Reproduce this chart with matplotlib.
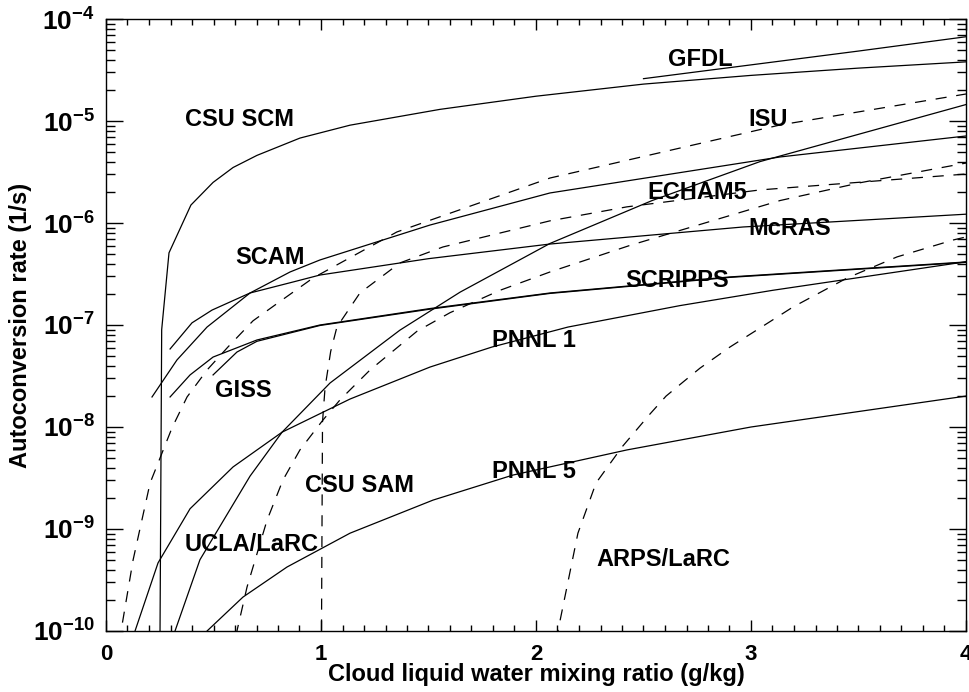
import matplotlib
matplotlib.use('Agg')
import matplotlib.pyplot as plt
from matplotlib.ticker import MultipleLocator, FixedLocator, FixedFormatter, LogLocator, NullFormatter

plt.rcParams['font.family'] = ['Liberation Sans', 'DejaVu Sans']
plt.rcParams['font.weight'] = 'bold'
plt.rcParams['mathtext.fontset'] = 'custom'
plt.rcParams['mathtext.rm'] = 'Liberation Sans:bold'
plt.rcParams['mathtext.bf'] = 'Liberation Sans:bold'
plt.rcParams['mathtext.it'] = 'Liberation Sans:bold'
plt.rcParams['lines.scale_dashes'] = False

## curves: cloud water (g/kg) vs autoconversion rate (1/s)
csu_scm_q = [0.2505, 0.259, 0.293, 0.395, 0.498, 0.591, 0.702, 0.902, 1.135, 1.553, 2.0, 2.5, 3.0, 3.5, 4.0]
csu_scm_r = [5e-11, 9e-8, 5.1e-7, 1.5e-6, 2.5e-6, 3.5e-6, 4.6e-6, 6.8e-6, 9.1e-6, 1.3e-5, 1.75e-5, 2.3e-5, 2.8e-5, 3.3e-5, 3.8e-5]

gfdl_q = [2.5, 3.0, 3.5, 4.0]
gfdl_r = [2.6e-5, 3.55e-5, 4.85e-5, 6.7e-5]

echam5_q = [0.30, 0.321, 0.437, 0.670, 0.819, 1.042, 1.367, 1.647, 2.065, 2.540, 3.042, 4.0]
echam5_r = [7.2e-11, 1.0e-10, 5.0e-10, 3.3e-9, 8.9e-9, 2.7e-8, 8.9e-8, 2.1e-7, 6.3e-7, 1.66e-6, 4.0e-6, 1.45e-5]

pnnl1_q = [0.120, 0.135, 0.242, 0.391, 0.591, 0.819, 1.135, 1.507, 1.795, 2.149, 2.670, 3.102, 4.0]
pnnl1_r = [7.4e-11, 1.0e-10, 4.65e-10, 1.58e-9, 4.06e-9, 8.9e-9, 1.88e-8, 3.87e-8, 6.08e-8, 9.55e-8, 1.55e-7, 2.19e-7, 4.17e-7]

pnnl5_q = [0.45, 0.470, 0.637, 0.842, 1.135, 1.521, 1.893, 2.423, 3.0, 4.0]
pnnl5_r = [7.8e-11, 1.0e-10, 2.15e-10, 4.24e-10, 9.1e-10, 1.92e-9, 3.38e-9, 5.96e-9, 1.0e-8, 2.01e-8]

scam_q = [0.214, 0.330, 0.470, 0.670, 0.856, 0.995, 1.507, 2.065, 3.135, 4.0]
scam_r = [1.97e-8, 4.54e-8, 9.55e-8, 2.06e-7, 3.31e-7, 4.34e-7, 9.55e-7, 1.97e-6, 4.44e-6, 7.13e-6]

mcras_q = [0.298, 0.400, 0.493, 0.670, 0.870, 0.995, 1.5, 2.065, 2.963, 4.0]
mcras_r = [5.82e-8, 1.05e-7, 1.40e-7, 2.06e-7, 2.64e-7, 3.09e-7, 4.47e-7, 6.22e-7, 9.14e-7, 1.22e-6]

scripps_q = [0.298, 0.391, 0.498, 0.702, 0.995, 1.507, 2.065, 2.902, 4.0]
scripps_r = [1.97e-8, 3.24e-8, 4.85e-8, 7.13e-8, 1.0e-7, 1.45e-7, 2.06e-7, 2.96e-7, 4.15e-7]

giss_q = [0.498, 0.609, 0.702, 0.995, 1.507, 2.065, 2.902, 4.0]
giss_r = [3.24e-8, 5.43e-8, 6.92e-8, 9.89e-8, 1.43e-7, 2.04e-7, 2.93e-7, 4.11e-7]

isu_q = [0.060, 0.070, 0.126, 0.205, 0.307, 0.377, 0.470, 0.567, 0.684, 0.809, 0.963, 1.353, 2.065, 3.135, 4.0]
isu_r = [7.6e-11, 1.0e-10, 4.97e-10, 2.82e-9, 9.8e-9, 1.97e-8, 3.62e-8, 6.08e-8, 1.10e-7, 1.70e-7, 2.89e-7, 8.17e-7, 2.76e-6, 9.14e-6, 1.84e-5]

ucla_q = [0.603, 0.609, 0.656, 0.749, 0.823, 0.902, 1.009, 1.088, 1.228, 1.447, 1.600, 1.833, 2.065, 2.437, 3.135, 3.507, 4.0]
ucla_r = [5.6e-11, 1.0e-10, 2.7e-10, 1.22e-9, 3.02e-9, 5.96e-9, 1.17e-8, 1.84e-8, 3.62e-8, 8.7e-8, 1.32e-7, 2.19e-7, 3.31e-7, 6.03e-7, 1.66e-6, 2.48e-6, 3.87e-6]

csu_sam_q = [1.000, 1.007, 1.019, 1.045, 1.074, 1.181, 1.367, 1.567, 2.065, 2.423, 3.042, 4.0]
csu_sam_r = [1e-11, 1.12e-8, 2.45e-8, 5.5e-8, 9.55e-8, 2.06e-7, 4.06e-7, 5.82e-7, 1.05e-6, 1.44e-6, 2.11e-6, 3.02e-6]

arps_q = [2.095, 2.102, 2.195, 2.279, 2.400, 2.530, 2.605, 2.684, 2.763, 2.902, 3.042, 3.195, 3.447, 3.679, 3.940, 4.0]
arps_r = [5.0e-11, 1.0e-10, 9.1e-10, 2.82e-9, 6.37e-9, 1.34e-8, 2.01e-8, 2.76e-8, 3.78e-8, 6.08e-8, 9.35e-8, 1.5e-7, 2.89e-7, 4.65e-7, 6.81e-7, 7.3e-7]

solid_curves = [(csu_scm_q, csu_scm_r), (gfdl_q, gfdl_r), (echam5_q, echam5_r),
                (pnnl1_q, pnnl1_r), (pnnl5_q, pnnl5_r), (scam_q, scam_r),
                (mcras_q, mcras_r), (scripps_q, scripps_r), (giss_q, giss_r)]
dashed_curves = [(isu_q, isu_r), (ucla_q, ucla_r), (csu_sam_q, csu_sam_r), (arps_q, arps_r)]

## curve names and where they were written
names = ['GFDL', 'CSU SCM', 'ISU', 'ECHAM5', 'McRAS', 'SCAM', 'SCRIPPS',
         'PNNL 1', 'GISS', 'CSU SAM', 'PNNL 5', 'UCLA/LaRC', 'ARPS/LaRC']
name_pos = [(2.614, 3.49e-5), (0.367, 9.02e-6), (2.986, 9.02e-6), (2.516, 1.73e-6),
            (2.986, 7.69e-7), (0.600, 4.0e-7), (2.414, 2.38e-7), (1.795, 6.14e-8),
            (0.507, 1.99e-8), (0.926, 2.33e-9), (1.795, 3.19e-9), (0.367, 6.14e-10),
            (2.279, 4.38e-10)]

x_ticks = [0, 1, 2, 3, 4]
x_tick_labels = ['0', '1', '2', '3', '4']
y_ticks = [1e-10, 1e-9, 1e-8, 1e-7, 1e-6, 1e-5, 1e-4]
y_tick_labels = [r'$\mathbf{10^{-10}}$', r'$\mathbf{10^{-9}}$', r'$\mathbf{10^{-8}}$',
                 r'$\mathbf{10^{-7}}$', r'$\mathbf{10^{-6}}$', r'$\mathbf{10^{-5}}$',
                 r'$\mathbf{10^{-4}}$']

fig = plt.figure(figsize=(9.7, 6.92), dpi=100)
ax = fig.add_axes([106/970, 61/692, 860/970, 612/692])

for q, r in solid_curves:
    ax.plot(q, r, color='black', lw=0.9, solid_joinstyle='miter')
for q, r in dashed_curves:
    ax.plot(q, r, color='black', lw=0.9, dashes=(8, 7))

for name, (px, py) in zip(names, name_pos):
    ax.text(px, py, name, fontsize=17, fontweight='bold', ha='left', va='baseline')

ax.set_yscale('log')
ax.set_xlim(0, 4)
ax.set_ylim(1e-10, 1e-4)

ax.xaxis.set_major_locator(FixedLocator(x_ticks))
ax.xaxis.set_major_formatter(FixedFormatter(x_tick_labels))
ax.xaxis.set_minor_locator(MultipleLocator(0.1))
ax.yaxis.set_major_locator(FixedLocator(y_ticks))
ax.yaxis.set_major_formatter(FixedFormatter(y_tick_labels))
ax.yaxis.set_minor_locator(LogLocator(base=10, subs=range(2, 10), numticks=20))
ax.yaxis.set_minor_formatter(NullFormatter())

ax.tick_params(which='both', direction='in', top=True, right=True, width=1)
ax.tick_params(axis='x', which='major', length=8, pad=9, labelsize=16)
ax.tick_params(axis='x', which='minor', length=4.3)
ax.tick_params(axis='y', which='major', length=12.5, pad=8, labelsize=19)
ax.tick_params(axis='y', which='minor', length=6.5)
for sp in ax.spines.values():
    sp.set_linewidth(1.0)

fig.text(536/970, 1 - 681/692, 'Cloud liquid water mixing ratio (g/kg)', fontsize=17,
         fontweight='bold', ha='center', va='baseline')
fig.text(21/970, 1 - 325/692, 'Autoconversion rate (1/s)', fontsize=17,
         fontweight='bold', ha='center', va='center', rotation=90)

fig.savefig('out.png', dpi=100)
